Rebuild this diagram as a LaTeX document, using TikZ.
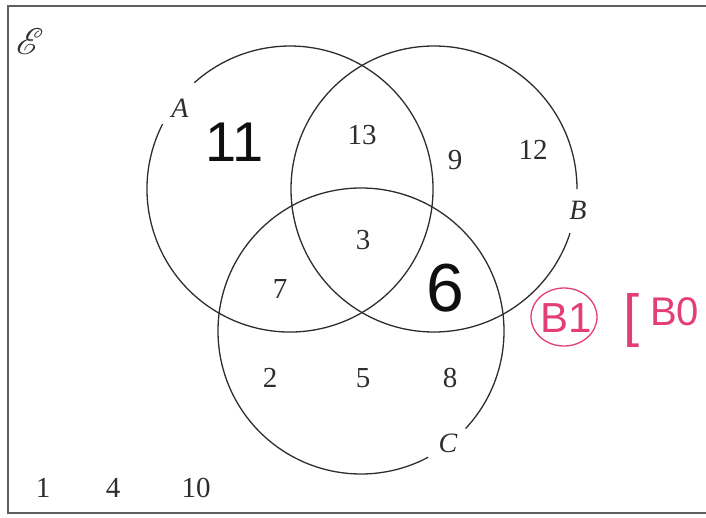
\documentclass[tikz,border=0pt]{standalone}
\usepackage{fontspec}
\setmainfont{Liberation Serif}
\newfontfamily\handfont{Liberation Sans}
\usepackage{mathrsfs}
\usetikzlibrary{calc,positioning}
\definecolor{frameGray}{RGB}{95,95,95}
\definecolor{setLine}{RGB}{45,45,45}
\definecolor{penBlack}{RGB}{15,15,15}
\definecolor{markRed}{RGB}{228,62,118}

\tikzset{
    num/.style={font=\fontsize{29}{30}\selectfont, text=setLine, inner sep=0pt},
    setlab/.style={font=\fontsize{28}{30}\selectfont\itshape, text=setLine, inner sep=0pt},
    hand/.style={font=\handfont\fontsize{56}{56}\selectfont, text=penBlack, inner sep=0pt},
    redmark/.style={font=\handfont\fontsize{42}{42}\selectfont, text=markRed, inner sep=0pt}
}

\begin{document}
\begin{tikzpicture}[x=1pt,y=1pt]
    \useasboundingbox (0,0) rectangle (706,-517);
    % key values
    \pgfmathsetmacro{\rad}{143}
    \coordinate (cA) at (290,-189);
    \coordinate (cB) at (434,-189);
    \coordinate (cC) at (361,-331);

    % frame
    \draw[frameGray, line width=2pt] (720,-6) -- (8,-6) -- (8,-513) -- (720,-513);
    \node[text=setLine, inner sep=0pt, scale=3.7] (univ) at (30,-42) {$\mathscr{E}$};

    % the three sets, each broken where its label sits
    \draw[setLine, line width=1.3pt] (cA) ++(153:\rad) arc[start angle=153, end angle=492, radius=\rad];
    \draw[setLine, line width=1.3pt] (cB) ++(0:\rad) arc[start angle=0, end angle=342, radius=\rad];
    \draw[setLine, line width=1.3pt] (cC) ++(-43:\rad) arc[start angle=-43, end angle=298, radius=\rad];

    % labels
    \node[setlab] (labA) at (180,-108) {A};
    \node[setlab] (labB) at (578,-210) {B};
    \node[setlab] (labC) at (448,-443) {C};

    % elements
    \node[num] (n13) at (362,-135) {13};
    \node[num] (n9)  at (455,-160) {9};
    \node[num] (n12) at (533,-150) {12};
    \node[num] (n3)  at (363,-240) {3};
    \node[num] (n7)  at (280,-289) {7};
    \node[num] (n2)  at (270,-378) {2};
    \node[num] (n5)  at (363,-378) {5};
    \node[num] (n8)  at (450,-378) {8};
    \node[num] (n1)  at (43,-488)  {1};
    \node[num] (n4)  at (113,-488) {4};
    \node[num] (n10) at (196,-488) {10};

    % pencilled answers
    \node[hand] (h11) at (235,-142) {11};
    \node[hand, font=\handfont\fontsize{68}{68}\selectfont] (h6) at (445,-288) {6};

    % marking in red
    \node[redmark] (b1) at (566,-318) {B1};
    \draw[markRed, line width=1.3pt] (564,-317) ellipse [x radius=33, y radius=29];
    \node[redmark, font=\handfont\fontsize{58}{58}\selectfont] (brk) at (632,-320) {[};
    \node[redmark, font=\handfont\fontsize{40}{40}\selectfont, anchor=west] (b0) at (650,-312) {B0};
\end{tikzpicture}
\end{document}
